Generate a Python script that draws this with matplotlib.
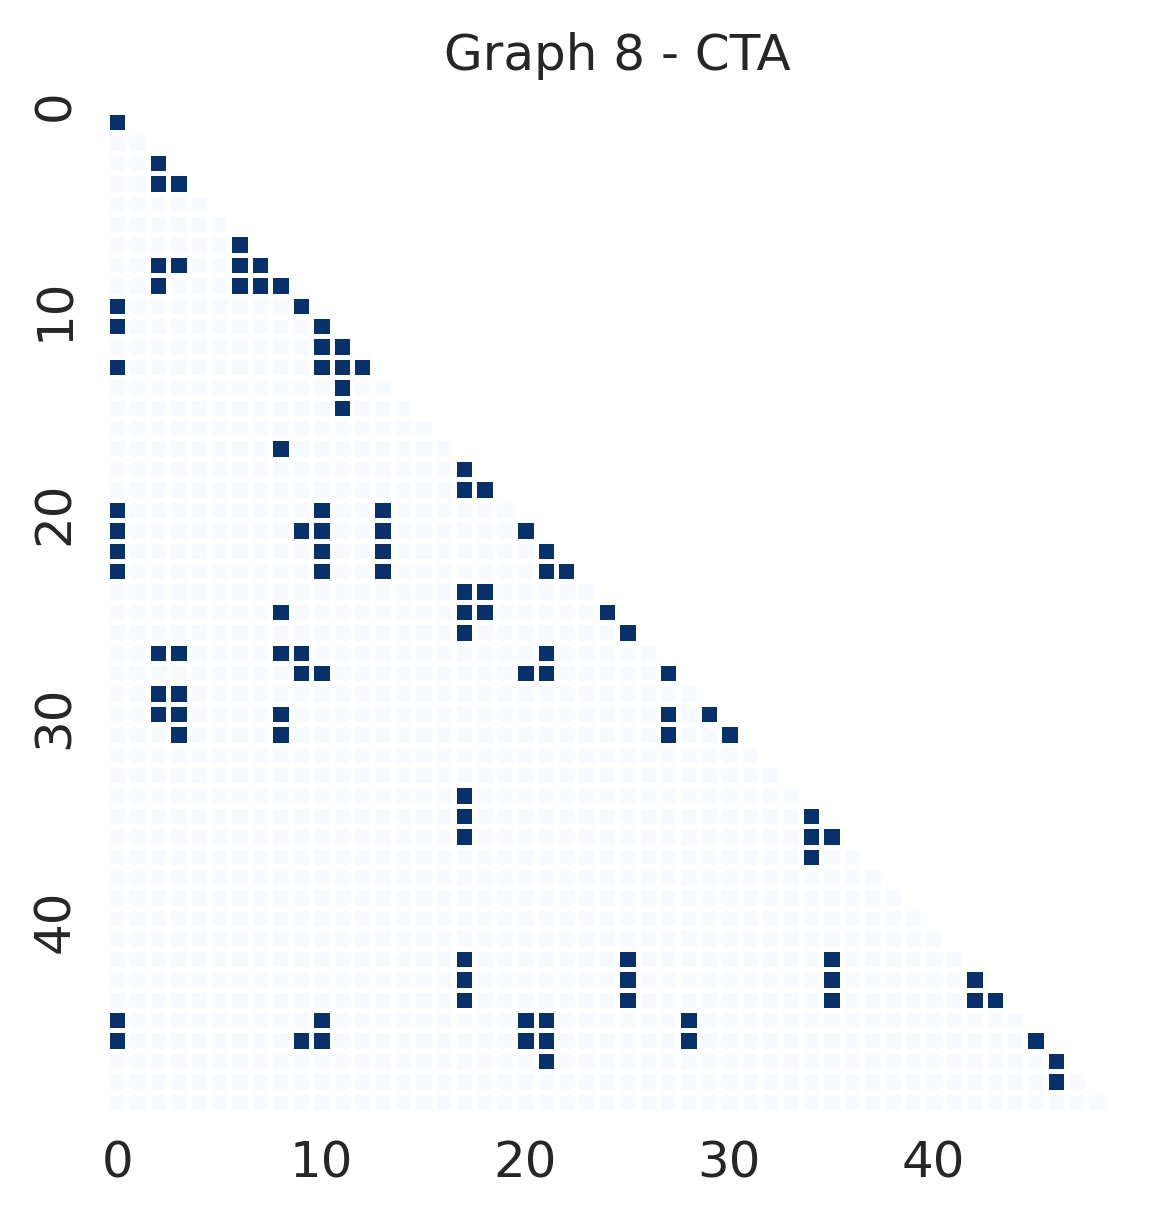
import numpy as np
import matplotlib
matplotlib.use("Agg")
import matplotlib.pyplot as plt
import matplotlib.transforms as mtransforms
import seaborn as sns

# adjacency of graph 8 (lower triangle incl. diagonal), dark cells = 1
n_nodes = 49
rows = [0, 2, 3, 3, 6, 7, 7, 7, 7, 8, 8, 8, 8, 9, 9, 10, 10, 11, 11,
        12, 12, 12, 12, 13, 14, 16, 17, 18, 18,
        19, 19, 19, 20, 20, 20, 20, 20, 21, 21, 21, 21, 22, 22, 22, 22, 22,
        23, 23, 24, 24, 24, 24, 25, 25,
        26, 26, 26, 26, 26, 27, 27, 27, 27, 27, 28, 28,
        29, 29, 29, 29, 29, 30, 30, 30, 30,
        33, 34, 34, 35, 35, 35, 36,
        41, 41, 41, 42, 42, 42, 42, 43, 43, 43, 43, 43,
        44, 44, 44, 44, 44, 45, 45, 45, 45, 45, 45, 45, 46, 46, 47]
cols = [0, 2, 2, 3, 6, 2, 3, 6, 7, 2, 6, 7, 8, 0, 9, 0, 10, 10, 11,
        0, 10, 11, 12, 11, 11, 8, 17, 17, 18,
        0, 10, 13, 0, 9, 10, 13, 20, 0, 10, 13, 21, 0, 10, 13, 21, 22,
        17, 18, 8, 17, 18, 24, 17, 25,
        2, 3, 8, 9, 21, 9, 10, 20, 21, 27, 2, 3,
        2, 3, 8, 27, 29, 3, 8, 27, 30,
        17, 17, 34, 17, 34, 35, 34,
        17, 25, 35, 17, 25, 35, 42, 17, 25, 35, 42, 43,
        0, 10, 20, 21, 28, 0, 9, 10, 20, 21, 28, 45, 21, 46, 46]

adj = np.zeros((n_nodes, n_nodes))
adj[rows, cols] = 1
mask = np.triu(np.ones_like(adj, dtype=bool), k=1)

sns.set_theme(style="white")
plt.rcParams["text.color"] = "#262626"

fig = plt.figure(figsize=(11.58, 12.21), dpi=100)
ax = fig.add_axes([0.0924, 0.0893, 0.8636, 0.819])
sns.heatmap(adj, mask=mask, cmap="Blues", vmin=0, vmax=1, cbar=False,
            linewidths=3.6, linecolor="white", square=True,
            xticklabels=10, yticklabels=10, ax=ax)
ax.set_title("Graph 8 - CTA", fontsize=36, pad=30, x=0.51, color="#262626")
ax.tick_params(axis="both", labelsize=36, colors="#262626", length=0)
ax.tick_params(axis="x", pad=20)
ax.tick_params(axis="y", pad=20)
plt.setp(ax.get_xticklabels(), rotation=0)
shift = mtransforms.ScaledTranslation(0, 0.17, fig.dpi_scale_trans)
for lbl in ax.get_yticklabels():
    lbl.set_rotation(90)
    lbl.set_transform(lbl.get_transform() + shift)

fig.savefig("out.png", dpi=100)
